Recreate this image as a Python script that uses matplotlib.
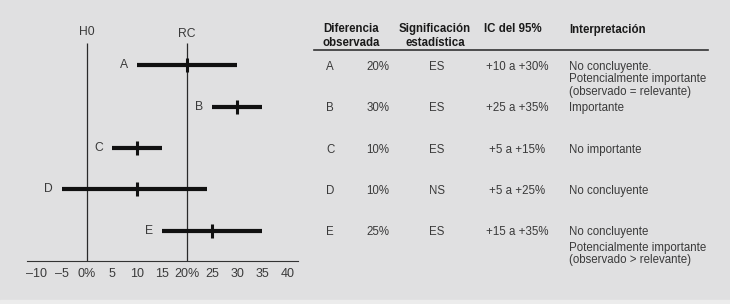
import matplotlib
matplotlib.use("Agg")
import matplotlib.pyplot as plt
from matplotlib import transforms
from matplotlib.patches import Rectangle

plt.rcParams["font.family"] = ["Liberation Sans", "DejaVu Sans"]

# data
studies = ["A", "B", "C", "D", "E"]
observed = [20, 30, 10, 10, 25]
ci_low = [10, 25, 5, -5, 15]
ci_high = [30, 35, 15, 24, 35]
h0 = 0
rc = 20
ticks = [-10, -5, 0, 5, 10, 15, 20, 25, 30, 35, 40]
tick_labels = ["\u201310", "\u20135", "0%", "5", "10", "15", "20%",
               "25", "30", "35", "40"]

# table
pct_col = ["20%", "30%", "10%", "10%", "25%"]
sig_col = ["ES", "ES", "ES", "NS", "ES"]
ic_col = ["+10 a +30%", "+25 a +35%", "+5 a +15%", "+5 a +25%", "+15 a +35%"]
interp_col = [
    ["No concluyente.\nPotencialmente importante\n(observado = relevante)"],
    ["Importante"],
    ["No importante"],
    ["No concluyente"],
    ["No concluyente", "Potencialmente importante\n(observado > relevante)"],
]

W, H = 730, 304
bg = "#e0e0e1"
txt = "#3a3a3a"

fig = plt.figure(figsize=(W / 100, H / 100), dpi=100, facecolor=bg)
fig.patches.append(Rectangle((0, 0), 1, 4 / H, transform=fig.transFigure,
                             color="#ececec", zorder=0))

ax = fig.add_axes([27 / W, 1 - 261 / H, 271 / W, 241 / H])
ax.set_facecolor(bg)
ax.set_xlim(-11.9, 42.1)
ax.set_ylim(4.73, -1.10)
for s in ["top", "left", "right"]:
    ax.spines[s].set_visible(False)
ax.spines["bottom"].set_color("#333333")
ax.spines["bottom"].set_linewidth(0.8)
ax.set_yticks([])
ax.set_xticks(ticks)
ax.set_xticklabels(tick_labels)
ax.tick_params(axis="x", length=0, pad=5, labelsize=9, labelcolor=txt)

ypos = list(range(len(studies)))

ax.vlines([h0, rc], -0.545, 4.73, color="#2a2a2a", linewidth=0.9)
ax.text(h0, -0.8, "H0", ha="center", va="center", fontsize=8.7, color=txt)
ax.text(rc, -0.76, "RC", ha="center", va="center", fontsize=8.7, color=txt)

ax.hlines(ypos, ci_low, ci_high, color="#111111", linewidth=3)
ax.plot(observed, ypos, linestyle="none", marker="|", markersize=10,
        markeredgewidth=2.2, color="#111111")
for name, lo, y in zip(studies, ci_low, ypos):
    ax.annotate(name, (lo, y), xytext=(-6.5, 0), textcoords="offset points",
                ha="right", va="center", fontsize=8.7, color=txt)

# table on the right, rows share the chart's y scale
row = transforms.blended_transform_factory(fig.transFigure, ax.transData)
top = transforms.blended_transform_factory(fig.transFigure, fig.transFigure)


def fx(px):
    return px / W


def fy(py):
    return 1 - py / H


hdr = dict(fontsize=8.3, fontweight="bold", color="#1a1a1a", transform=top,
           va="center", linespacing=1.2)
fig.text(fx(351), fy(36), "Diferencia\nobservada", ha="center", **hdr)
fig.text(fx(435), fy(36), "Significación\nestadística", ha="center", **hdr)
fig.text(fx(484), fy(29.5), "IC del 95%", ha="left", **hdr)
fig.text(fx(569), fy(29.5), "Interpretación", ha="left", **hdr)
fig.add_artist(plt.Line2D([fx(314), fx(708)], [fy(50), fy(50)],
                          color="#333333", linewidth=1.2))

body = dict(fontsize=8.3, color=txt, transform=row)
for i, y in enumerate(ypos):
    fig.text(fx(326), y + 0.04, studies[i], ha="left", va="center", **body)
    fig.text(fx(378), y + 0.04, pct_col[i], ha="center", va="center", **body)
    fig.text(fx(437), y + 0.04, sig_col[i], ha="center", va="center", **body)
    fig.text(fx(517), y + 0.04, ic_col[i], ha="center", va="center", **body)
    yy = y - 0.11
    for block in interp_col[i]:
        fig.text(fx(569), yy, block, ha="left", va="top", linespacing=1.06,
                 **body)
        yy += 0.37

fig.savefig("out.png", dpi=100, facecolor=bg)
